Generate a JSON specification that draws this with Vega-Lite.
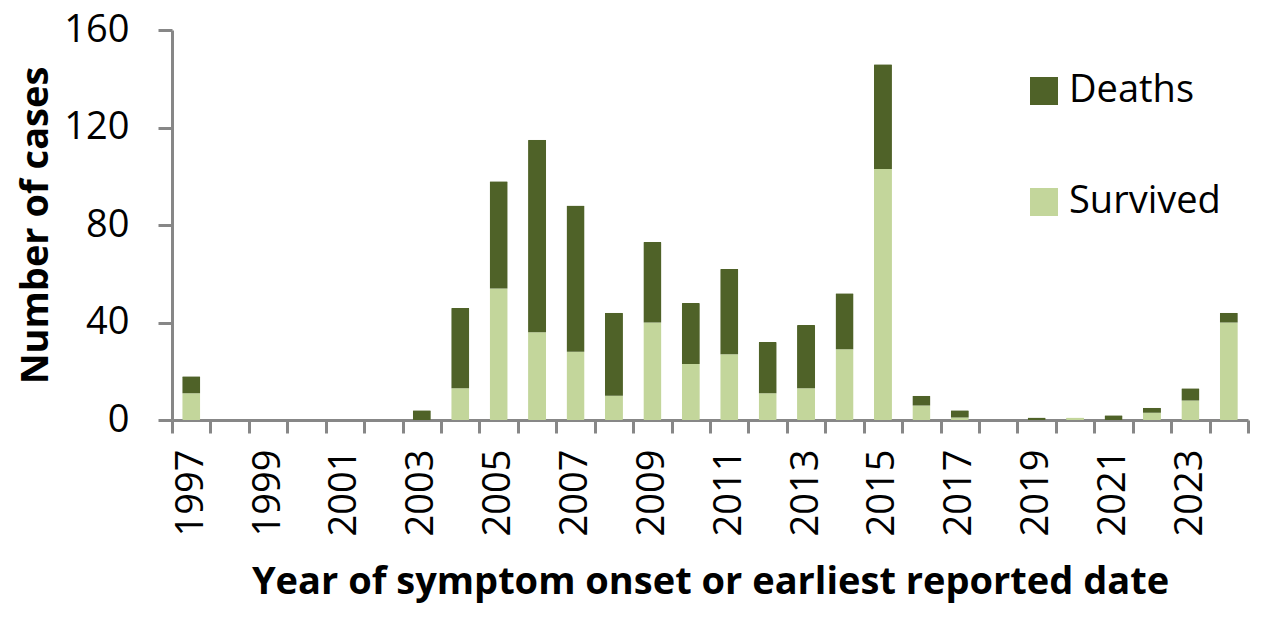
{
  "$schema": "https://vega.github.io/schema/vega-lite/v6.json",
  "autosize": {"type": "none"},
  "width": 1076,
  "height": 390,
  "padding": {"left": 172, "top": 30, "right": 22, "bottom": 199},
  "background": "white",
  "config": {
    "font": "Open Sans",
    "view": {"stroke": null}
  },
  "data": {
    "values": [
      {"year": 1997, "outcome": "Survived", "cases": 11}, {"year": 1997, "outcome": "Deaths", "cases": 7},
      {"year": 1998, "outcome": "Survived", "cases": 0}, {"year": 1998, "outcome": "Deaths", "cases": 0},
      {"year": 1999, "outcome": "Survived", "cases": 0}, {"year": 1999, "outcome": "Deaths", "cases": 0},
      {"year": 2000, "outcome": "Survived", "cases": 0}, {"year": 2000, "outcome": "Deaths", "cases": 0},
      {"year": 2001, "outcome": "Survived", "cases": 0}, {"year": 2001, "outcome": "Deaths", "cases": 0},
      {"year": 2002, "outcome": "Survived", "cases": 0}, {"year": 2002, "outcome": "Deaths", "cases": 0},
      {"year": 2003, "outcome": "Survived", "cases": 0}, {"year": 2003, "outcome": "Deaths", "cases": 4},
      {"year": 2004, "outcome": "Survived", "cases": 13}, {"year": 2004, "outcome": "Deaths", "cases": 33},
      {"year": 2005, "outcome": "Survived", "cases": 54}, {"year": 2005, "outcome": "Deaths", "cases": 44},
      {"year": 2006, "outcome": "Survived", "cases": 36}, {"year": 2006, "outcome": "Deaths", "cases": 79},
      {"year": 2007, "outcome": "Survived", "cases": 28}, {"year": 2007, "outcome": "Deaths", "cases": 60},
      {"year": 2008, "outcome": "Survived", "cases": 10}, {"year": 2008, "outcome": "Deaths", "cases": 34},
      {"year": 2009, "outcome": "Survived", "cases": 40}, {"year": 2009, "outcome": "Deaths", "cases": 33},
      {"year": 2010, "outcome": "Survived", "cases": 23}, {"year": 2010, "outcome": "Deaths", "cases": 25},
      {"year": 2011, "outcome": "Survived", "cases": 27}, {"year": 2011, "outcome": "Deaths", "cases": 35},
      {"year": 2012, "outcome": "Survived", "cases": 11}, {"year": 2012, "outcome": "Deaths", "cases": 21},
      {"year": 2013, "outcome": "Survived", "cases": 13}, {"year": 2013, "outcome": "Deaths", "cases": 26},
      {"year": 2014, "outcome": "Survived", "cases": 29}, {"year": 2014, "outcome": "Deaths", "cases": 23},
      {"year": 2015, "outcome": "Survived", "cases": 103}, {"year": 2015, "outcome": "Deaths", "cases": 43},
      {"year": 2016, "outcome": "Survived", "cases": 6}, {"year": 2016, "outcome": "Deaths", "cases": 4},
      {"year": 2017, "outcome": "Survived", "cases": 1}, {"year": 2017, "outcome": "Deaths", "cases": 3},
      {"year": 2018, "outcome": "Survived", "cases": 0}, {"year": 2018, "outcome": "Deaths", "cases": 0},
      {"year": 2019, "outcome": "Survived", "cases": 0}, {"year": 2019, "outcome": "Deaths", "cases": 1},
      {"year": 2020, "outcome": "Survived", "cases": 1}, {"year": 2020, "outcome": "Deaths", "cases": 0},
      {"year": 2021, "outcome": "Survived", "cases": 0}, {"year": 2021, "outcome": "Deaths", "cases": 2},
      {"year": 2022, "outcome": "Survived", "cases": 3}, {"year": 2022, "outcome": "Deaths", "cases": 2},
      {"year": 2023, "outcome": "Survived", "cases": 8}, {"year": 2023, "outcome": "Deaths", "cases": 5},
      {"year": 2024, "outcome": "Survived", "cases": 40}, {"year": 2024, "outcome": "Deaths", "cases": 4}
    ]
  },
  "mark": {"type": "bar", "cornerRadius": 1, "width": {"band": 0.47}},
  "encoding": {
    "x": {
      "field": "year",
      "type": "ordinal",
      "scale": {"paddingInner": 0, "paddingOuter": 0},
      "axis": {
        "title": "Year of symptom onset or earliest reported date",
        "titleFont": "Open Sans",
        "titleFontSize": 38,
        "titleFontWeight": "bold",
        "titleColor": "black",
        "titlePadding": 28,
        "labelFontSize": 38,
        "labelColor": "black",
        "labelAngle": -90,
        "labelAlign": "right",
        "labelBaseline": "middle",
        "labelPadding": 16,
        "labelExpr": "datum.value % 2 == 1 ? datum.label : ''",
        "labelOverlap": false,
        "tickBand": "extent",
        "tickSize": 13,
        "tickWidth": 3,
        "tickColor": "#878787",
        "domainColor": "#878787",
        "domainWidth": 3,
        "grid": false
      }
    },
    "y": {
      "field": "cases",
      "type": "quantitative",
      "aggregate": "sum",
      "stack": "zero",
      "scale": {"domain": [0, 160], "nice": false},
      "axis": {
        "title": "Number of cases",
        "titleFont": "Open Sans",
        "titleFontSize": 38,
        "titleFontWeight": "bold",
        "titleColor": "black",
        "titlePadding": 8,
        "values": [0, 40, 80, 120, 160],
        "labelFontSize": 38,
        "labelColor": "black",
        "labelPadding": 29,
        "tickSize": 14,
        "tickWidth": 3,
        "tickColor": "#878787",
        "domainColor": "#878787",
        "domainWidth": 3,
        "grid": false
      }
    },
    "color": {
      "field": "outcome",
      "type": "nominal",
      "scale": {"domain": ["Deaths", "Survived"], "range": ["#4F6228", "#C3D69B"]},
      "legend": {
        "title": null,
        "orient": "none",
        "legendX": 853,
        "legendY": 42,
        "symbolType": "square",
        "symbolSize": 784,
        "symbolStrokeWidth": 0,
        "labelFont": "Open Sans",
        "labelFontSize": 38,
        "labelColor": "black",
        "labelOffset": 6,
        "rowPadding": 73
      }
    },
    "order": {"field": "outcome", "sort": "descending"}
  }
}
